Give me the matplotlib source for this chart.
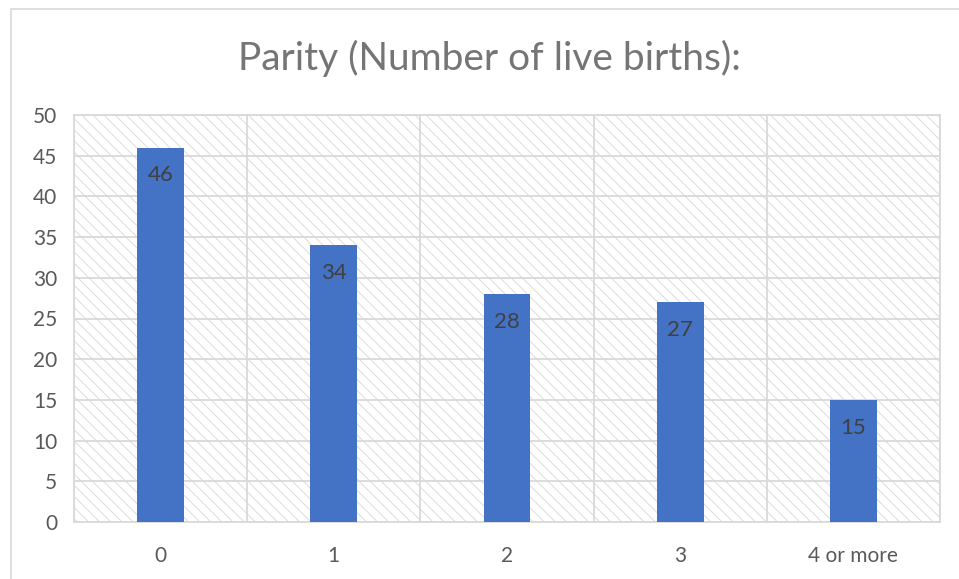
import matplotlib
matplotlib.use("Agg")
import matplotlib.pyplot as plt
from matplotlib.patches import Rectangle

categories = ["0", "1", "2", "3", "4 or more"]
counts = [46, 34, 28, 27, 15]
y_ticks = [0, 5, 10, 15, 20, 25, 30, 35, 40, 45, 50]

title = "Parity (Number of live births):"

plt.rcParams["font.family"] = ["Lato", "DejaVu Sans"]
plt.rcParams["hatch.linewidth"] = 0.6

W, H, DPI = 959, 579, 100
fig = plt.figure(figsize=(W / DPI, H / DPI), dpi=DPI)
fig.patch.set_facecolor("white")

# outer chart frame
fig.patches.append(Rectangle((11 / W, -0.1), 1.2, 1 - 9 / H + 0.1,
                             transform=fig.transFigure, fill=False,
                             edgecolor="#d9d9d9", linewidth=1.2))

left, right, top, bottom = 74, 940, 115, 522
ax = fig.add_axes([left / W, 1 - bottom / H, (right - left) / W, (bottom - top) / H])

# hatched plot background
ax.add_patch(Rectangle((0, 0), 1, 1, transform=ax.transAxes, facecolor="white",
                       edgecolor="#d6d6d6", linewidth=0, hatch="\\\\\\", zorder=0))

x = list(range(len(categories)))
bars = ax.bar(x, counts, width=0.27, color="#4472C4", zorder=3)

for xi, v in zip(x, counts):
    ax.annotate(str(v), (xi, v), xytext=(0, -20), textcoords="offset points",
                ha="center", va="center", fontsize=16, color="#404040", zorder=4)

ax.set_xlim(-0.5, len(categories) - 0.5)
ax.set_ylim(0, 50)
ax.set_yticks(y_ticks)
ax.set_xticks(x)
ax.set_xticklabels(categories)

grid_c = "#d9d9d9"
for yv in y_ticks:
    ax.axhline(yv, color=grid_c, linewidth=1.3, zorder=1)
for b in [i - 0.5 for i in range(len(categories) + 1)]:
    ax.axvline(b, color=grid_c, linewidth=1.3, zorder=1)

for s in ax.spines.values():
    s.set_color(grid_c)
    s.set_linewidth(1.3)

ax.tick_params(axis="both", length=0, labelsize=15, labelcolor="#595959")
ax.tick_params(axis="x", pad=17)
ax.tick_params(axis="y", pad=12)

fig.text(489 / W, 1 - 58 / H, title, ha="center", va="center",
         fontsize=28, color="#757575")

fig.savefig("out.png", dpi=DPI)
